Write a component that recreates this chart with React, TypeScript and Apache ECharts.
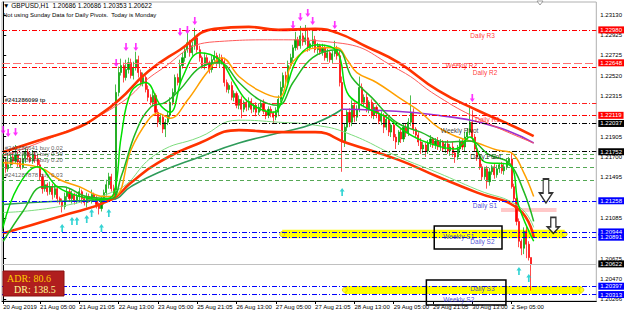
import React, { useEffect, useRef } from "react";
import * as echarts from "echarts";

const N_SLOTS = 242;
const firstOpen = 1.2098;

const closes = [
  1.2165, 1.2158, 1.2162, 1.2170, 1.2166, 1.2172, 1.2165, 1.2160, 1.2168, 1.2175, 1.2170, 1.2166, 1.2172, 1.2168, 1.2162,
  1.2150, 1.2138, 1.2142, 1.2135, 1.2140, 1.2132, 1.2138, 1.2128, 1.2125, 1.2120, 1.2130, 1.2135, 1.2128, 1.2132, 1.2126,
  1.2130, 1.2135, 1.2128, 1.2124, 1.2130, 1.2127, 1.2132, 1.2128, 1.2122, 1.2118, 1.2126, 1.2134, 1.2142, 1.2150, 1.2138,
  1.2130, 1.2235, 1.2255, 1.2262, 1.2250, 1.2258, 1.2265, 1.2252, 1.2260, 1.2268, 1.2255, 1.2245, 1.2250, 1.2238, 1.2230,
  1.2225, 1.2232, 1.2215, 1.2205, 1.2210, 1.2198, 1.2205, 1.2212, 1.2225, 1.2235, 1.2250, 1.2245, 1.2262, 1.2270, 1.2278,
  1.2285, 1.2275, 1.2282, 1.2290, 1.2278, 1.2270, 1.2262, 1.2270, 1.2265, 1.2258, 1.2268, 1.2272, 1.2264, 1.2270, 1.2266,
  1.2245, 1.2238, 1.2242, 1.2230, 1.2234, 1.2222, 1.2228, 1.2218, 1.2225, 1.2220, 1.2226, 1.2218, 1.2222, 1.2215, 1.2220,
  1.2224, 1.2216, 1.2212, 1.2218, 1.2214, 1.2210, 1.2215, 1.2228, 1.2240, 1.2252, 1.2248, 1.2262, 1.2270, 1.2280, 1.2288,
  1.2282, 1.2292, 1.2286, 1.2290, 1.2280, 1.2284, 1.2288, 1.2278, 1.2282, 1.2276, 1.2280, 1.2270, 1.2275, 1.2268, 1.2274,
  1.2279, 1.2272, 1.2245, 1.2185, 1.2200, 1.2215, 1.2205, 1.2222, 1.2210, 1.2218, 1.2240, 1.2225, 1.2230, 1.2218, 1.2225,
  1.2212, 1.2220, 1.2214, 1.2206, 1.2212, 1.2200, 1.2208, 1.2195, 1.2202, 1.2190, 1.2185, 1.2195, 1.2188, 1.2200, 1.2194,
  1.2205, 1.2215, 1.2198, 1.2192, 1.2185, 1.2178, 1.2182, 1.2176, 1.2184, 1.2188, 1.2182, 1.2186, 1.2180, 1.2185, 1.2178,
  1.2183, 1.2176, 1.2180, 1.2174, 1.2170, 1.2178, 1.2185, 1.2180, 1.2190, 1.2195, 1.2205, 1.2190, 1.2178, 1.2170, 1.2160,
  1.2150, 1.2158, 1.2145, 1.2155, 1.2160, 1.2152, 1.2158, 1.2162, 1.2156, 1.2160, 1.2165, 1.2168, 1.2140, 1.2128, 1.2105,
  1.2085, 1.2078, 1.2095, 1.2082, 1.20686, 1.20622,
];

// wick lengths in pips
const upWick = [
  7, 4, 12, 3, 5, 10, 3, 4, 5, 4, 3, 4, 5, 3, 4,
  5, 3, 4, 2, 5, 3, 4, 3, 2, 3, 4, 5, 3, 4, 2,
  3, 4, 2, 3, 4, 3, 5, 2, 3, 2, 4, 3, 5, 4, 3,
  4, 8, 6, 7, 3, 10, 5, 4, 6, 8, 4, 3, 5, 2, 4,
  3, 5, 2, 3, 4, 2, 3, 4, 5, 4, 3, 4, 6, 5, 4,
  10, 3, 4, 10, 3, 4, 2, 5, 3, 2, 4, 5, 3, 4, 3,
  4, 3, 2, 4, 3, 2, 4, 3, 2, 3, 4, 3, 2, 3, 4,
  3, 4, 2, 3, 3, 2, 5, 4, 6, 3, 4, 5, 4, 3, 8,
  3, 10, 3, 13, 10, 3, 9, 4, 3, 2, 4, 3, 4, 2, 3,
  8, 3, 5, 6, 4, 3, 4, 5, 3, 4, 11, 4, 3, 4, 2,
  3, 4, 2, 3, 4, 2, 3, 3, 2, 4, 3, 2, 4, 3, 3,
  4, 17, 4, 2, 3, 4, 3, 2, 3, 4, 2, 3, 4, 3, 2,
  3, 4, 3, 5, 2, 4, 3, 4, 5, 4, 17, 12, 3, 4, 2,
  3, 2, 3, 4, 2, 3, 4, 2, 3, 4, 3, 2, 7, 3, 2,
  3, 2, 4, 5, 3, 0,
];
const downWick = [
  3, 4, 3, 2, 4, 3, 5, 3, 2, 4, 3, 2, 3, 4, 3,
  4, 5, 3, 4, 3, 5, 3, 4, 3, 6, 3, 4, 3, 5, 4,
  3, 4, 5, 3, 5, 3, 4, 3, 4, 6, 3, 4, 3, 4, 3,
  3, 3, 4, 3, 5, 3, 4, 3, 4, 3, 5, 3, 4, 3, 4,
  3, 4, 3, 5, 3, 4, 8, 3, 4, 3, 4, 3, 4, 3, 4,
  3, 4, 3, 4, 3, 4, 3, 4, 3, 4, 3, 4, 3, 4, 3,
  4, 3, 4, 3, 4, 3, 4, 9, 3, 4, 3, 4, 3, 4, 3,
  4, 3, 4, 3, 4, 6, 3, 4, 3, 4, 3, 4, 3, 4, 3,
  4, 3, 4, 3, 4, 3, 4, 3, 4, 3, 4, 3, 4, 3, 4,
  3, 4, 4, 30, 5, 4, 5, 4, 5, 4, 3, 4, 5, 3, 4,
  3, 4, 5, 3, 4, 6, 3, 4, 5, 4, 7, 3, 4, 3, 4,
  3, 4, 5, 3, 4, 5, 4, 6, 3, 4, 3, 4, 3, 4, 3,
  4, 3, 5, 4, 6, 3, 4, 3, 4, 3, 3, 4, 3, 4, 3,
  4, 3, 7, 4, 3, 4, 3, 4, 3, 4, 3, 3, 2, 3, 4,
  6, 7, 6, 14, 3, 26.9,
];

const xTickIdx = [0, 15, 31, 47, 63, 79, 95, 111, 127, 143, 159, 175, 191, 207];
const xTickText = [
  "20 Aug 2019", "21 Aug 05:00", "21 Aug 21:05", "22 Aug 13:00", "23 Aug 05:00", "25 Aug 21:05", "26 Aug 13:00",
  "27 Aug 05:00", "27 Aug 21:05", "28 Aug 13:00", "29 Aug 05:00", "29 Aug 21:05", "30 Aug 13:00", "2 Sep 05:00",
];
const yTickValues = [1.2313, 1.22925, 1.22725, 1.2252, 1.22315, 1.21905, 1.217, 1.21495, 1.21085, 1.20675, 1.2047, 1.20266];

// indicator lines: [bar index, price]
const upperBand = [[0, 1.2175], [15, 1.2187], [31, 1.22], [39, 1.2212], [47, 1.2227], [59, 1.2256], [72, 1.2278], [86, 1.2299], [100, 1.2301], [112, 1.2298], [127, 1.2299], [136, 1.2295], [148, 1.2281], [161, 1.2265], [177, 1.2237], [193, 1.2217], [205, 1.2204], [216, 1.2191]];
const thinRed = [[0, 1.2171], [23, 1.2193], [47, 1.2223], [63, 1.2256], [86, 1.2286], [112, 1.2288], [136, 1.2285], [161, 1.2258], [177, 1.2231], [193, 1.2209], [216, 1.2184]];
const lowerBand = [[0, 1.2093], [23, 1.211], [44, 1.2127], [52, 1.2144], [63, 1.2164], [80, 1.2184], [96, 1.2197], [112, 1.2195], [127, 1.2195], [140, 1.2184], [161, 1.2167], [177, 1.215], [193, 1.2134], [210, 1.2117], [216, 1.2089]];
const darkGreen = [[0, 1.2122], [20, 1.2125], [44, 1.2127], [52, 1.214], [63, 1.2154], [80, 1.217], [96, 1.2184], [112, 1.2194], [127, 1.2204], [138, 1.2218]];
const purpleLine = [[138, 1.2218], [152, 1.2217], [177, 1.2212], [201, 1.22], [216, 1.2184]];
const lightGreen = [[0, 1.2114], [44, 1.2134], [63, 1.2174], [80, 1.219], [96, 1.2207], [112, 1.2205], [127, 1.2202], [140, 1.2194], [161, 1.217], [177, 1.2154], [193, 1.2137], [210, 1.212], [216, 1.2099]];
const orangeLine = [[0, 1.2164], [15, 1.2159], [23, 1.2147], [31, 1.214], [41, 1.213], [46, 1.2131], [52, 1.2177], [59, 1.2207], [63, 1.2214], [68, 1.2209], [75, 1.2227], [83, 1.2255], [89, 1.227], [96, 1.2251], [104, 1.2237], [112, 1.223], [118, 1.2266], [128, 1.228], [136, 1.228], [140, 1.2268], [144, 1.2255], [152, 1.2245], [161, 1.223], [169, 1.2217], [177, 1.22], [185, 1.219], [193, 1.2184], [201, 1.2177], [207, 1.2174], [212, 1.2154], [216, 1.213]];
const limeLine = [[0, 1.21], [6, 1.214], [14, 1.216], [22, 1.214], [30, 1.2131], [40, 1.2127], [45, 1.2133], [48, 1.219], [52, 1.2235], [58, 1.2245], [64, 1.2222], [68, 1.2215], [73, 1.225], [80, 1.2275], [88, 1.2268], [94, 1.2245], [100, 1.2225], [110, 1.2215], [114, 1.223], [120, 1.227], [128, 1.2283], [136, 1.2276], [140, 1.2235], [146, 1.2222], [156, 1.221], [164, 1.2195], [172, 1.2185], [184, 1.2178], [190, 1.219], [196, 1.2165], [206, 1.2162], [210, 1.212], [216, 1.2085]];
const greenLine = [[0, 1.2085], [8, 1.2115], [16, 1.214], [24, 1.214], [34, 1.213], [44, 1.2128], [48, 1.215], [54, 1.2195], [60, 1.222], [66, 1.2225], [72, 1.2238], [80, 1.226], [88, 1.2265], [96, 1.2245], [104, 1.2228], [112, 1.2222], [118, 1.2245], [126, 1.227], [136, 1.2278], [142, 1.225], [150, 1.223], [160, 1.2205], [170, 1.2195], [180, 1.2185], [190, 1.2186], [198, 1.2172], [206, 1.2164], [212, 1.2135], [216, 1.2105]];

const fractalDown = [[0, 1.21971], [2, 1.21941], [5, 1.21951], [46, 1.22646], [50, 1.22808], [54, 1.22808], [72, 1.22959], [75, 1.22979], [78, 1.2307], [118, 1.23029], [121, 1.2311], [124, 1.2315], [126, 1.2307], [135, 1.23029], [191, 1.22294]];
const fractalUp = [[24, 1.20984], [28, 1.21055], [30, 1.21055], [34, 1.21075], [36, 1.21135], [40, 1.20984], [43, 1.21135], [138, 1.21347], [210, 1.20551], [214, 1.2048]];
const bigArrows = [[221, 1.21357], [224, 1.21009]];

// horizontal levels
const levelNames = ["Daily R3", "Weekly R2", "Daily R2", "tp", "Daily R1", "Weekly Pivot", "Daily Pivot", "order1", "order2", "order3", "order4", "Daily S1", "Weekly S1", "Daily S2", "bid", "Daily S3", "Weekly S2"];
const levelPrices = [1.2298, 1.22648, 1.22606, 1.22243, 1.22119, 1.22037, 1.21752, 1.2173, 1.21685, 1.216, 1.2146, 1.21258, 1.20944, 1.20891, 1.20622, 1.20397, 1.20313];
const labelledLevels = ["Daily R3", "Weekly R2", "Daily R1", "Weekly Pivot", "Daily Pivot", "Daily S1", "Weekly S1", "Daily S2", "bid", "Daily S3", "Weekly S2"];

// text annotations on chart
const levelTexts = ["Daily R3", "Weekly R2", "Daily R2", "Daily R1", "Weekly Pivot", "Daily Pivot", "Daily S1", "Weekly S1", "Daily S2", "Daily S3", "Weekly S2"];
const levelTextAt = [[190, 1.22924], [180, 1.22626], [191, 1.22546], [192, 1.22082], [178, 1.21966], [190, 1.21704], [191, 1.21211], [179, 1.20903], [190, 1.20843], [190, 1.20369], [179, 1.20268]];
const orderTexts = ["#241286099 tp", "#241286641 buy 0.02", "#241286640 buy 0.59", "#241286644 buy 0.20", "#241287878 buy 0.03"];
const orderTextAt = [[0, 1.22274], [0, 1.2179], [0, 1.2173], [0, 1.21669], [0, 1.21518]];

// zones: [x0, x1, priceTop, priceBottom]
const zoneKinds = ["yellow", "yellow", "pink", "box", "box"];
const zones = [[113.6, 228.6, 1.20965, 1.2088], [139.1, 235.4, 1.204, 1.20319], [202.7, 225.3, 1.21185, 1.21145], [175.5, 203.1, 1.21004, 1.20772], [172.3, 204.7, 1.2046, 1.20208]];
const zoneDots = [[113.6, 1.20922], [228.6, 1.20922], [139.1, 1.2036], [235.4, 1.2036]];

const headerLine1 = "\u25BC GBPUSD,H1  1.20686 1.20686 1.20353 1.20622";
const headerLine2 = "Not using Sunday Data for Daily Pivots.  Today is Monday";
const adrText = "ADR: 80.6";
const drText = "DR: 138.5";

const FONT = "Liberation Sans";
const DASHDOT = [5, 2, 1, 2];

function levelStyle(name: string) {
  if (name === "bid") return { color: "#c0c0c0", type: "solid", bg: "#000000" };
  if (name.startsWith("order")) return { color: "#55a855", type: [4, 3], bg: "" };
  if (name === "tp") return { color: "#ff2020", type: DASHDOT, bg: "" };
  if (name === "Weekly R2") return { color: "#ff7070", type: [8, 3], bg: "#ff0000" };
  if (name.includes("R")) return { color: "#ff0000", type: DASHDOT, bg: "#ff0000" };
  if (name.includes("Pivot")) return { color: "#000000", type: DASHDOT, bg: "#000000" };
  return { color: "#0000ff", type: DASHDOT, bg: "#0000ff" };
}

function textColor(name: string) {
  if (name.includes("Pivot")) return "#000000";
  if (name.includes("R")) return "#ff0000";
  return "#1c1cc8";
}

const zoneStyle: Record<string, any> = {
  yellow: { fill: "#ffff00", stroke: null },
  pink: { fill: "#ffc8c8", stroke: null },
  box: { fill: "none", stroke: "#000000", lineWidth: 1.5 },
};

const ARROW_DOWN = "path://M2,0 L4,0 L4,5 L6,5 L3,9 L0,5 L2,5 Z";
const ARROW_UP = "path://M3,0 L6,4 L4,4 L4,9 L2,9 L2,4 L0,4 Z";
const BIG_DOWN = "path://M4,0 L10,0 L10,14 L14,14 L7,24 L0,14 L4,14 Z";

export default function App() {
  const ref = useRef<HTMLDivElement>(null);
  useEffect(() => {
    if (!ref.current) return;
    const chart = echarts.init(ref.current, undefined, { renderer: "svg" });
    const candles = closes.map((c, i) => {
      const o = i === 0 ? firstOpen : closes[i - 1];
      const hi = Math.max(o, c) + upWick[i] / 10000;
      const lo = Math.min(o, c) - downWick[i] / 10000;
      return [o, c, lo, hi];
    });
    const categories = Array.from({ length: N_SLOTS }, (_, i) => String(i));
    const tickMap = new Map<number, string>();
    xTickIdx.forEach((k, j) => tickMap.set(k, xTickText[j]));

    const lineSeries = (data: number[][], color: string, width: number, z = 4, smooth = 0.5) => ({
      type: "line",
      xAxisIndex: 1,
      data,
      smooth,
      showSymbol: false,
      symbol: "none",
      lineStyle: { color, width },
      z,
      silent: true,
    });

    const markLineData = levelNames.map((name, i) => {
      const st = levelStyle(name);
      const hasLabel = labelledLevels.includes(name);
      return {
        yAxis: levelPrices[i],
        lineStyle: { color: st.color, type: st.type, width: 1 },
        label: hasLabel
          ? {
              show: true,
              position: "end",
              distance: 2,
              formatter: () => levelPrices[i].toFixed(5),
              backgroundColor: st.bg,
              color: "#ffffff",
              fontSize: 6,
              fontFamily: FONT,
              padding: [1, 2, 0, 2],
            }
          : { show: false },
      };
    });

    const option: any = {
      animation: false,
      backgroundColor: "#ffffff",
      grid: { left: 2, right: 25, top: 2, bottom: 12, show: true, borderColor: "#b0b0b0", borderWidth: 1 },
      xAxis: [
        {
          type: "category",
          data: categories,
          boundaryGap: true,
          axisLine: { show: true, lineStyle: { color: "#000" } },
          axisTick: { show: true, interval: (i: number) => tickMap.has(i), alignWithLabel: true, length: 3, lineStyle: { color: "#000" } },
          axisLabel: {
            interval: (i: number) => tickMap.has(i),
            formatter: (v: string) => tickMap.get(Number(v)) || "",
            align: "left",
            fontSize: 6,
            fontFamily: FONT,
            color: "#000",
            margin: 3,
          },
          splitLine: { show: false },
        },
        { type: "value", min: -0.5, max: N_SLOTS - 0.5, show: false },
      ],
      yAxis: {
        type: "value",
        position: "right",
        min: 1.20248,
        max: 1.23261,
        scale: true,
        splitLine: { show: false },
        axisLine: { show: true, lineStyle: { color: "#000" } },
        axisTick: { show: true, customValues: yTickValues, length: 3, lineStyle: { color: "#000" } },
        axisLabel: {
          customValues: yTickValues,
          formatter: (v: number) => v.toFixed(5),
          fontSize: 6,
          fontFamily: FONT,
          color: "#000",
          margin: 4,
        },
      },
      graphic: [
        { type: "text", left: 3, top: 2, style: { text: headerLine1, fontSize: 6.5, fontFamily: FONT, fill: "#000" }, z: 100 },
        { type: "text", left: 3, top: 12, style: { text: headerLine2, fontSize: 6, fontFamily: FONT, fill: "#000" }, z: 100 },
        { type: "rect", shape: { x: 3, y: 271, width: 61, height: 25 }, style: { fill: "#b01e1e", stroke: "#8a1010", lineWidth: 1 }, z: 100 },
        { type: "text", x: 7, y: 273, style: { text: adrText, fontSize: 10, fontFamily: "Liberation Serif", fill: "#ffcc00" }, z: 101 },
        { type: "text", x: 14, y: 284, style: { text: drText, fontSize: 10, fontFamily: "Liberation Serif", fill: "#ffff99" }, z: 101 },
        { type: "polygon", shape: { points: [[537, 1], [543, 1], [540, 5]] }, style: { fill: "#fff", stroke: "#888", lineWidth: 0.8 }, z: 100 },
      ],
      series: [
        {
          type: "line",
          xAxisIndex: 1,
          data: [],
          z: 2,
          silent: true,
          markLine: { silent: true, symbol: ["none", "none"], precision: 6, data: markLineData },
        },
        {
          type: "custom",
          xAxisIndex: 1,
          z: 1,
          silent: true,
          data: zones,
          renderItem: (params: any, api: any) => {
            const p0 = api.coord([api.value(0), api.value(2)]);
            const p1 = api.coord([api.value(1), api.value(3)]);
            const kind = zoneKinds[params.dataIndex];
            if (kind === "box") return null;
            return {
              type: "rect",
              shape: { x: p0[0], y: p0[1], width: p1[0] - p0[0], height: p1[1] - p0[1] },
              style: zoneStyle[kind],
            };
          },
        },
        {
          type: "candlestick",
          xAxisIndex: 0,
          data: candles,
          barWidth: 1.6,
          z: 3,
          silent: true,
          itemStyle: { color: "#00a000", color0: "#ff0000", borderColor: "#00a000", borderColor0: "#ff0000", borderWidth: 0.7 },
        },
        lineSeries(lightGreen, "#7ddc7d", 1),
        lineSeries(darkGreen, "#2e9b5a", 1.6),
        lineSeries(purpleLine, "#9a30d0", 1.6),
        lineSeries(thinRed, "#ff5a5a", 1),
        lineSeries(upperBand, "#ff3300", 2.6),
        lineSeries(lowerBand, "#ff3300", 2.6),
        lineSeries(orangeLine, "#ffa000", 1.5, 5, 0.4),
        lineSeries(greenLine, "#22b822", 1.5, 5, 0.4),
        lineSeries(limeLine, "#00e000", 1.5, 5, 0.4),
        {
          type: "scatter",
          xAxisIndex: 1,
          data: fractalDown,
          symbol: ARROW_DOWN,
          symbolSize: [5, 8],
          itemStyle: { color: "#ff00ff" },
          z: 6,
          silent: true,
        },
        {
          type: "scatter",
          xAxisIndex: 1,
          data: fractalUp,
          symbol: ARROW_UP,
          symbolSize: [5, 8],
          itemStyle: { color: "#00c8c8" },
          z: 6,
          silent: true,
        },
        {
          type: "scatter",
          xAxisIndex: 1,
          data: bigArrows.map((d, i) => ({ value: d, symbolSize: i === 0 ? [13, 24] : [12, 16] })),
          symbol: BIG_DOWN,
          itemStyle: { color: "#ffffff", borderColor: "#000000", borderWidth: 1.5 },
          z: 7,
          silent: true,
        },
        {
          type: "scatter",
          xAxisIndex: 1,
          data: zoneDots,
          symbol: "circle",
          symbolSize: 5,
          itemStyle: { color: "#ffff00", borderColor: "#e0d000", borderWidth: 1 },
          z: 2,
          silent: true,
        },
        {
          type: "custom",
          xAxisIndex: 1,
          z: 8,
          silent: true,
          clip: false,
          data: zones,
          renderItem: (params: any, api: any) => {
            const kind = zoneKinds[params.dataIndex];
            if (kind !== "box") return null;
            const p0 = api.coord([api.value(0), api.value(2)]);
            const p1 = api.coord([api.value(1), api.value(3)]);
            return {
              type: "rect",
              shape: { x: p0[0], y: p0[1], width: p1[0] - p0[0], height: p1[1] - p0[1] },
              style: zoneStyle[kind],
            };
          },
        },
        {
          type: "scatter",
          xAxisIndex: 1,
          symbolSize: 1,
          itemStyle: { color: "rgba(0,0,0,0)" },
          z: 9,
          silent: true,
          data: levelTexts.map((t, i) => ({
            value: levelTextAt[i],
            label: {
              show: true,
              position: "right",
              distance: 0,
              formatter: t,
              color: textColor(t),
              fontSize: 6.5,
              fontFamily: FONT,
            },
          })),
        },
        {
          type: "scatter",
          xAxisIndex: 1,
          symbolSize: 1,
          itemStyle: { color: "rgba(0,0,0,0)" },
          z: 9,
          silent: true,
          data: orderTexts.map((t, i) => ({
            value: orderTextAt[i],
            label: {
              show: true,
              position: "right",
              distance: 1,
              formatter: t,
              color: i === 0 ? "#000" : "#333",
              fontWeight: i === 0 ? "bold" : "normal",
              fontSize: 6,
              fontFamily: FONT,
            },
          })),
        },
      ],
    };
    chart.setOption(option);
    return () => chart.dispose();
  }, []);
  return <div ref={ref} style={{ position: "fixed", left: 0, top: 0, width: 625, height: 313 }} />;
}
